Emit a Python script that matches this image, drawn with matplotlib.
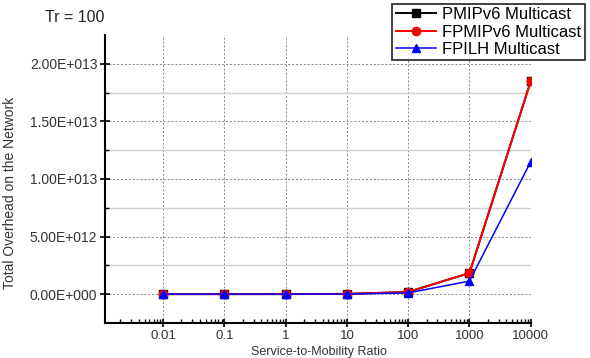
import numpy as np
import matplotlib
matplotlib.use("Agg")
import matplotlib.pyplot as plt
from matplotlib.ticker import FixedLocator, LogLocator, NullFormatter

plt.rcParams['font.family'] = ['Liberation Sans', 'DejaVu Sans']

# data
ratio = [0.01, 0.1, 1, 10, 100, 1000, 10000]
x_labels = ['0.01', '0.1', '1', '10', '100', '1000', '10000']
pmipv6 = [2e7, 2e8, 2e9, 2e10, 1.9e11, 1.83e12, 1.85e13]
fpmipv6 = [2e7, 2e8, 2e9, 2e10, 1.9e11, 1.83e12, 1.85e13]
fpilh = [1.2e7, 1.2e8, 1.2e9, 1.2e10, 1.1e11, 1.13e12, 1.15e13]
y_ticks = [0, 5e12, 1e13, 1.5e13, 2e13]
y_labels = ['0.00E+000', '5.00E+012', '1.00E+013', '1.50E+013', '2.00E+013']

fig = plt.figure(figsize=(5.9, 3.58), dpi=100)
ax = fig.add_axes([0.178, 0.098, 0.722, 0.804])

ax.plot(ratio, pmipv6, color='black', marker='s', markersize=6, lw=1.4, label='PMIPv6 Multicast')
ax.plot(ratio, fpmipv6, color='red', marker='o', markersize=6, lw=1.4, label='FPMIPv6 Multicast')
ax.plot(ratio, fpilh, color='blue', marker='^', markersize=6, lw=1.1, label='FPILH Multicast')

ax.set_xscale('log')
ax.set_xlim(1.13e-3, 1.01e4)
ax.set_ylim(-2.5e12, 2.25e13)

ax.xaxis.set_major_locator(FixedLocator(ratio))
ax.set_xticklabels(x_labels)
ax.xaxis.set_minor_locator(LogLocator(base=10, subs=np.arange(2, 10)))
ax.xaxis.set_minor_formatter(NullFormatter())

ax.set_yticks(y_ticks)
ax.set_yticklabels(y_labels)
ax.yaxis.set_minor_locator(FixedLocator([2.5e12, 7.5e12, 1.25e13, 1.75e13]))

ax.grid(True, which='major', axis='both', color='#888888', linestyle=(0, (2, 2)), lw=0.7)
ax.grid(True, which='minor', axis='y', color='#d0d0d0', linestyle='-', lw=1.0)
ax.set_axisbelow(True)

ax.spines['top'].set_visible(False)
ax.spines['right'].set_visible(False)
ax.spines['left'].set_linewidth(1.5)
ax.spines['bottom'].set_linewidth(1.5)

ax.tick_params(axis='both', which='major', labelsize=10, colors='black', labelcolor='#333333')
ax.tick_params(axis='x', which='major', direction='inout', length=6, width=1.2,
               pad=2, labelsize=9.5)
ax.tick_params(axis='x', which='minor', direction='in', length=3, width=1)
ax.tick_params(axis='y', which='major', direction='inout', length=7, width=1.2, pad=2)
ax.tick_params(axis='y', which='minor', direction='in', length=3, width=1)

fig.text(0.076, 0.952, 'Tr = 100', fontsize=11.5, color='#222222', va='center')
fig.text(0.017, 0.46, 'Total Overhead on the Network', rotation=90, fontsize=10,
         color='#333333', ha='center', va='center')
fig.text(0.54, 0.0, 'Service-to-Mobility Ratio', fontsize=9, color='#333333',
         ha='center', va='bottom')

leg = fig.legend(loc='upper right', bbox_to_anchor=(0.994, 0.994), fontsize=12,
                 fancybox=False, frameon=True, handlelength=2.4, borderpad=0.2,
                 labelspacing=0.15, handletextpad=0.4, borderaxespad=0.1)
leg.get_frame().set_edgecolor('black')
leg.get_frame().set_linewidth(1.3)

fig.savefig('out.png', dpi=100)
